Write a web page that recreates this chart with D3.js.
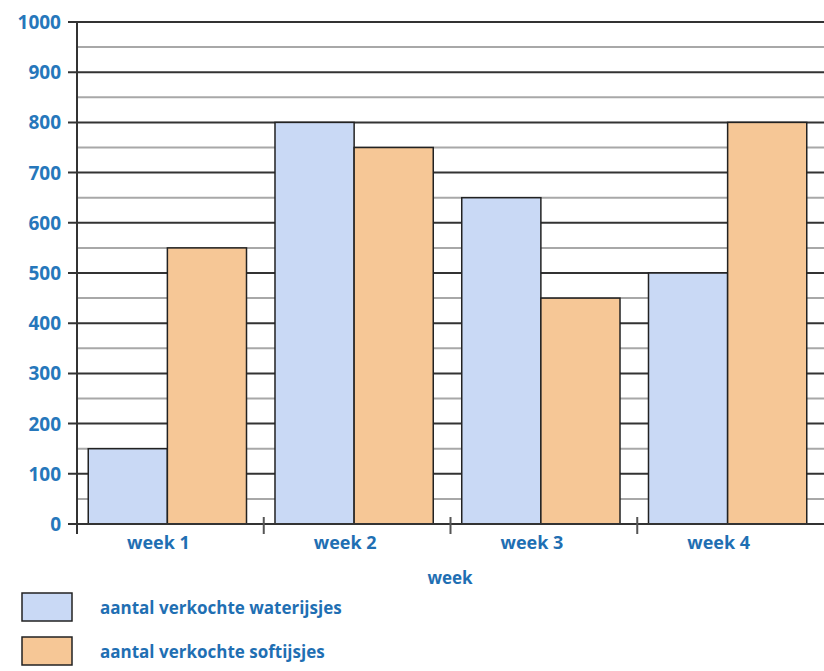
<!DOCTYPE html>
<html>
<head>
<meta charset="utf-8">
<script src="https://cdn.jsdelivr.net/npm/d3@7"></script>
<style>
  body { margin: 0; background: #fff; }
  text { font-family: "Open Sans", Lato, sans-serif; font-weight: 700; fill: #1f6fb3; }
</style>
</head>
<body>
<div id="chart"></div>
<script>
var weeks = ['week 1', 'week 2', 'week 3', 'week 4'];
var series = ['aantal verkochte waterijsjes', 'aantal verkochte softijsjes'];
var waterijsjes = [150, 800, 650, 500];
var softijsjes = [550, 750, 450, 800];
var yTicks = [0, 100, 200, 300, 400, 500, 600, 700, 800, 900, 1000];
var minorTicks = [50, 150, 250, 350, 450, 550, 650, 750, 850, 950];
var colors = ['#c9d9f5', '#f6c796'];

var svg = d3.select('#chart')
  .append('svg')
    .attr('width', 824)
    .attr('height', 671);

var y = d3.scaleLinear().domain([0, 1000]).range([524, 22]);
var x0 = d3.scaleBand().domain(weeks).range([77, 824]);
var x1 = d3.scaleBand().domain(series).range([0, x0.bandwidth()]).paddingOuter(0.18);

// grid lines, light every 50 and dark every 100
svg.append('g').selectAll('line')
  .data(minorTicks)
  .join('line')
    .attr('x1', 77).attr('x2', 824)
    .attr('y1', d => y(d)).attr('y2', d => y(d))
    .attr('stroke', '#a8a8a8')
    .attr('stroke-width', 2);

svg.append('g').selectAll('line')
  .data(yTicks)
  .join('line')
    .attr('x1', 68).attr('x2', 824)
    .attr('y1', d => y(d)).attr('y2', d => y(d))
    .attr('stroke', '#333')
    .attr('stroke-width', 2);

// bars
var rows = weeks.map((w, i) => ({ week: w, vals: [waterijsjes[i], softijsjes[i]] }));
var groups = svg.append('g').selectAll('g')
  .data(rows)
  .join('g')
    .attr('transform', d => 'translate(' + (x0(d.week) - 3) + ',0)');

groups.selectAll('rect')
  .data(d => d.vals.map((v, j) => ({ s: series[j], v: v, j: j })))
  .join('rect')
    .attr('x', d => x1(d.s))
    .attr('y', d => y(d.v))
    .attr('width', x1.bandwidth())
    .attr('height', d => y(0) - y(d.v))
    .attr('fill', d => colors[d.j])
    .attr('stroke', '#222')
    .attr('stroke-width', 1.5);

// axes lines
svg.append('line')
  .attr('x1', 77).attr('x2', 77)
  .attr('y1', 22).attr('y2', 534)
  .attr('stroke', '#333').attr('stroke-width', 2);

svg.append('line')
  .attr('x1', 68).attr('x2', 824)
  .attr('y1', y(0)).attr('y2', y(0))
  .attr('stroke', '#333').attr('stroke-width', 2);

// category separator ticks
svg.append('g').selectAll('line')
  .data(weeks.slice(1))
  .join('line')
    .attr('x1', d => x0(d)).attr('x2', d => x0(d))
    .attr('y1', 517).attr('y2', 534)
    .attr('stroke', '#555').attr('stroke-width', 2);

// y labels
svg.append('g').selectAll('text')
  .data(yTicks)
  .join('text')
    .attr('x', 61)
    .attr('y', d => y(d) + 7)
    .attr('text-anchor', 'end')
    .style('font-size', '19px')
    .style('fill', '#2677bb')
    .text(d => d);

// x labels
svg.append('g').selectAll('text')
  .data(weeks)
  .join('text')
    .attr('x', d => x0(d) + x0.bandwidth() / 2 - 12)
    .attr('y', 549)
    .attr('text-anchor', 'middle')
    .style('font-size', '18px')
    .text(d => d);

svg.append('text')
  .attr('x', 450)
  .attr('y', 584)
  .attr('text-anchor', 'middle')
  .style('font-size', '17px')
  .text('week');

// legend
var legend = svg.append('g').selectAll('g')
  .data(series)
  .join('g')
    .attr('transform', (d, i) => 'translate(0,' + (593 + i * 44) + ')');

legend.append('rect')
  .attr('x', 22).attr('y', 0)
  .attr('width', 50).attr('height', 28)
  .attr('fill', (d, i) => colors[i])
  .attr('stroke', '#222').attr('stroke-width', 1.5);

legend.append('text')
  .attr('x', 100).attr('y', 21)
  .style('font-size', '17px')
  .text(d => d);
</script>
</body>
</html>
